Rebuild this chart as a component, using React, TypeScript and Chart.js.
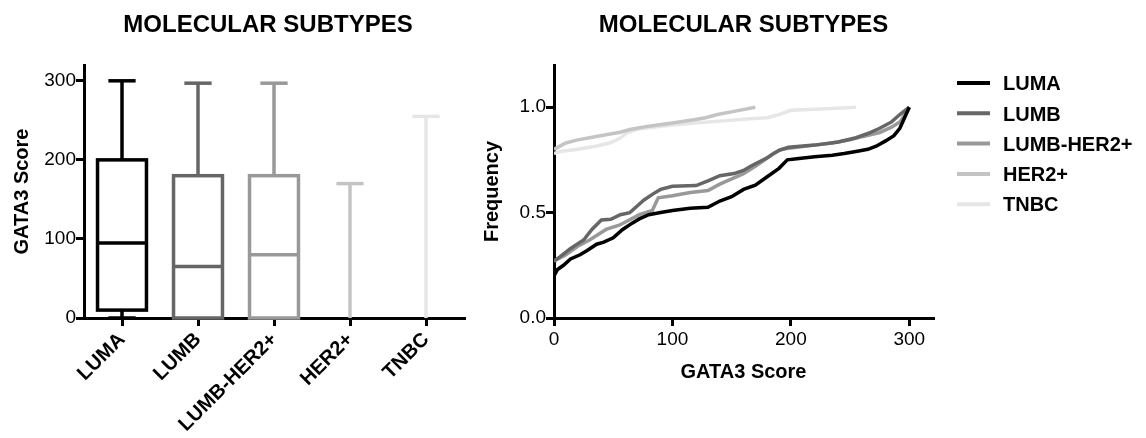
import { useEffect, useRef } from "react";
import { Chart, registerables } from "chart.js";

Chart.register(...registerables);

const FONT = "'Liberation Sans', Arial, Helvetica, sans-serif";

// Box plot summary per molecular subtype (GATA3 score)
const subtypes = ["LUMA", "LUMB", "LUMB-HER2+", "HER2+", "TNBC"];
const subtypeColors = ["#000000", "#666666", "#999999", "#c4c4c4", "#e6e6e6"];
const scoreMin = [0, 0, 0, 0, 0];
const scoreQ1 = [10, 0, 0, 0, 0];
const scoreMedian = [95, 65, 80, 0, 0];
const scoreQ3 = [200, 180, 180, 0, 0];
const scoreMax = [300, 297, 297, 170, 255];

const scoreTicks = [0, 100, 200, 300];
const freqTicks = [0, 0.5, 1.0];

// Cumulative frequency of GATA3 score per subtype
const lumaScore = [0, 3, 8, 14, 22, 28, 36, 42, 50, 58, 66, 72, 80, 90, 100, 115, 130, 140, 150, 160, 170, 180, 190, 197, 205, 220, 235, 245, 255, 265, 272, 280, 287, 292, 296, 300];
const lumaFreq = [0.2, 0.23, 0.25, 0.28, 0.3, 0.32, 0.35, 0.36, 0.38, 0.42, 0.45, 0.47, 0.49, 0.5, 0.51, 0.52, 0.525, 0.555, 0.575, 0.61, 0.63, 0.67, 0.71, 0.75, 0.755, 0.765, 0.772, 0.78, 0.79, 0.8, 0.815, 0.84, 0.865, 0.9, 0.95, 1.0];

const lumbScore = [0, 5, 14, 25, 32, 40, 48, 56, 64, 70, 76, 84, 90, 100, 120, 130, 140, 152, 160, 166, 180, 190, 198, 220, 240, 255, 265, 275, 285, 292, 300];
const lumbFreq = [0.27, 0.29, 0.33, 0.37, 0.42, 0.465, 0.468, 0.49, 0.5, 0.53, 0.56, 0.59, 0.61, 0.625, 0.628, 0.65, 0.675, 0.685, 0.7, 0.72, 0.76, 0.795, 0.81, 0.82, 0.835, 0.855, 0.875, 0.9, 0.93, 0.965, 1.0];

const lumbHer2Score = [0, 10, 20, 30, 44, 55, 62, 72, 83, 88, 100, 115, 130, 140, 150, 160, 170, 178, 185, 192, 205, 220, 235, 250, 260, 275, 285, 292, 297, 300];
const lumbHer2Freq = [0.27, 0.3, 0.34, 0.37, 0.42, 0.44, 0.46, 0.49, 0.51, 0.57, 0.58, 0.595, 0.605, 0.635, 0.66, 0.685, 0.72, 0.75, 0.78, 0.8, 0.81, 0.82, 0.83, 0.845, 0.86, 0.88, 0.905, 0.93, 0.97, 1.0];

const her2Score = [0, 10, 20, 30, 45, 55, 65, 80, 100, 118, 128, 138, 152, 170];
const her2Freq = [0.8, 0.83, 0.845, 0.855, 0.87, 0.88, 0.895, 0.91, 0.925, 0.94, 0.95, 0.965, 0.98, 1.0];

const tnbcScore = [0, 5, 20, 35, 47, 55, 62, 70, 90, 118, 143, 165, 180, 190, 200, 220, 240, 255];
const tnbcFreq = [0.78, 0.79, 0.8, 0.815, 0.83, 0.85, 0.88, 0.895, 0.91, 0.925, 0.935, 0.945, 0.95, 0.965, 0.985, 0.99, 0.995, 1.0];

const curveScores = [lumaScore, lumbScore, lumbHer2Score, her2Score, tnbcScore];
const curveFreqs = [lumaFreq, lumbFreq, lumbHer2Freq, her2Freq, tnbcFreq];

const axisGrid = {
  drawOnChartArea: false,
  drawTicks: true,
  tickLength: 8,
  lineWidth: 3,
  color: "#000",
};
const axisBorder = { display: true, width: 3, color: "#000" };

// Panel heading centred over the plot area
function makeHeading(shift: number) {
  return {
    id: "heading",
    afterDraw(chart: any) {
      const { ctx, chartArea } = chart;
      ctx.save();
      ctx.font = `bold 24px ${FONT}`;
      ctx.fillStyle = "#000";
      ctx.textAlign = "center";
      ctx.textBaseline = "alphabetic";
      ctx.fillText("MOLECULAR SUBTYPES", (chartArea.left + chartArea.right) / 2 + shift, 32);
      ctx.restore();
    },
  };
}

// Boxes (centred strokes), whiskers, caps and medians at the bar positions
const boxPlugin = {
  id: "boxes",
  afterDatasetsDraw(chart: any) {
    const { ctx } = chart;
    const xs = chart.scales.x;
    const ys = chart.scales.y;
    const meta = chart.getDatasetMeta(0);
    const lw = 3.5;
    const seg = (x1: number, y1: number, x2: number, y2: number) => {
      ctx.beginPath();
      ctx.moveTo(x1, y1);
      ctx.lineTo(x2, y2);
      ctx.stroke();
    };
    ctx.save();
    ctx.lineWidth = lw;
    ctx.lineCap = "butt";
    ctx.lineJoin = "miter";
    subtypes.forEach((_, i) => {
      const bar = meta.data[i];
      const cx = xs.getPixelForValue(i);
      const half = bar.width / 2 - lw / 2;
      const cap = bar.width * 0.26;
      const pMin = ys.getPixelForValue(scoreMin[i]);
      const pQ1 = ys.getPixelForValue(scoreQ1[i]);
      const pMed = ys.getPixelForValue(scoreMedian[i]);
      const pQ3 = ys.getPixelForValue(scoreQ3[i]);
      const pMax = ys.getPixelForValue(scoreMax[i]);
      ctx.strokeStyle = subtypeColors[i];
      seg(cx, pQ3, cx, pMax);
      seg(cx - cap, pMax, cx + cap, pMax);
      if (pMin !== pQ1) {
        seg(cx, pQ1, cx, pMin);
        seg(cx - cap, pMin, cx + cap, pMin);
      }
      if (scoreQ3[i] > scoreQ1[i]) {
        ctx.strokeRect(cx - half, pQ3, half * 2, pQ1 - pQ3);
        seg(cx - half, pMed, cx + half, pMed);
      }
    });
    ctx.restore();
  },
};

// Line legend to the right of the cumulative plot
const lineLegendPlugin = {
  id: "lineLegend",
  afterDraw(chart: any) {
    const { ctx, chartArea } = chart;
    ctx.save();
    chart.data.datasets.forEach((ds: any, i: number) => {
      const y = chartArea.top + 18 + i * 30.3;
      const x0 = chartArea.right + 24;
      ctx.strokeStyle = ds.borderColor;
      ctx.lineWidth = 4;
      ctx.beginPath();
      ctx.moveTo(x0, y);
      ctx.lineTo(x0 + 33, y);
      ctx.stroke();
      ctx.font = `bold 20px ${FONT}`;
      ctx.fillStyle = "#000";
      ctx.textAlign = "left";
      ctx.textBaseline = "alphabetic";
      ctx.fillText(ds.label, x0 + 46, y + 7.2);
    });
    ctx.restore();
  },
};

function BoxPanel() {
  const ref = useRef<HTMLCanvasElement | null>(null);
  useEffect(() => {
    if (!ref.current) return;
    const chart = new Chart(ref.current, {
      type: "bar",
      data: {
        labels: subtypes,
        datasets: [
          {
            label: "GATA3 Score",
            data: subtypes.map((_, i) => [scoreQ1[i], scoreQ3[i]]) as any,
            backgroundColor: "rgba(0,0,0,0)",
            borderColor: "rgba(0,0,0,0)",
            borderWidth: 0,
            categoryPercentage: 1,
            barPercentage: 0.69,
          },
        ],
      },
      options: {
        responsive: false,
        animation: false,
        layout: { padding: { top: 65, right: 16, bottom: 0, left: 0 } },
        plugins: { legend: { display: false }, tooltip: { enabled: false } },
        scales: {
          x: {
            type: "category",
            offset: true,
            z: 1,
            grid: { ...axisGrid, offset: false },
            border: axisBorder,
            ticks: {
              font: { family: FONT, size: 20, weight: "bold" },
              color: "#000",
              minRotation: 45,
              maxRotation: 45,
              autoSkip: false,
              padding: 2,
            },
            afterFit(scale: any) {
              scale.height = 120;
            },
          },
          y: {
            type: "linear",
            min: 0,
            max: 320,
            z: 1,
            grid: axisGrid,
            border: axisBorder,
            ticks: {
              font: { family: FONT, size: 19 },
              color: "#000",
              padding: 0,
            },
            afterBuildTicks(scale: any) {
              scale.ticks = scoreTicks.map((v) => ({ value: v }));
            },
            title: {
              display: true,
              text: "GATA3 Score",
              color: "#000",
              font: { family: FONT, size: 20, weight: "bold" },
              padding: { top: 10, bottom: 0 },
            },
            afterFit(scale: any) {
              scale.width = 84;
            },
          },
        },
      } as any,
      plugins: [boxPlugin, makeHeading(-6)],
    });
    return () => chart.destroy();
  }, []);
  return (
    <canvas
      ref={ref}
      width={480}
      height={438}
      style={{ position: "absolute", left: 0, top: 0 }}
    />
  );
}

function CumulativePanel() {
  const ref = useRef<HTMLCanvasElement | null>(null);
  useEffect(() => {
    if (!ref.current) return;
    const chart = new Chart(ref.current, {
      type: "line",
      data: {
        datasets: subtypes.map((name, i) => ({
          label: name,
          data: curveScores[i].map((s, k) => ({ x: s, y: curveFreqs[i][k] })),
          borderColor: subtypeColors[i],
          backgroundColor: subtypeColors[i],
          borderWidth: 3.5,
          pointRadius: 0,
          tension: 0,
          fill: false,
        })),
      },
      options: {
        responsive: false,
        animation: false,
        layout: { padding: { top: 65, right: 213, bottom: 0, left: 0 } },
        plugins: { legend: { display: false }, tooltip: { enabled: false } },
        scales: {
          x: {
            type: "linear",
            min: 0,
            max: 320,
            z: 1,
            grid: axisGrid,
            border: axisBorder,
            ticks: {
              font: { family: FONT, size: 19 },
              color: "#000",
              padding: 2,
            },
            afterBuildTicks(scale: any) {
              scale.ticks = scoreTicks.map((v) => ({ value: v }));
            },
            title: {
              display: true,
              text: "GATA3 Score",
              color: "#000",
              font: { family: FONT, size: 20, weight: "bold" },
              padding: { top: 0, bottom: 54 },
            },
            afterFit(scale: any) {
              scale.height = 120;
            },
          },
          y: {
            type: "linear",
            min: 0,
            max: 1.2,
            z: 1,
            grid: axisGrid,
            border: axisBorder,
            ticks: {
              font: { family: FONT, size: 19 },
              color: "#000",
              padding: 0,
              callback: (v: any) => Number(v).toFixed(1),
            },
            afterBuildTicks(scale: any) {
              scale.ticks = freqTicks.map((v) => ({ value: v }));
            },
            title: {
              display: true,
              text: "Frequency",
              color: "#000",
              font: { family: FONT, size: 20, weight: "bold" },
              padding: { top: 0, bottom: 0 },
            },
            afterFit(scale: any) {
              scale.width = 74;
            },
          },
        },
      } as any,
      plugins: [lineLegendPlugin, makeHeading(0)],
    });
    return () => chart.destroy();
  }, []);
  return (
    <canvas
      ref={ref}
      width={666}
      height={438}
      style={{ position: "absolute", left: 480, top: 0 }}
    />
  );
}

export default function App() {
  return (
    <div
      style={{
        position: "absolute",
        left: 0,
        top: 0,
        width: 1146,
        height: 438,
        background: "#fff",
        overflow: "hidden",
      }}
    >
      <BoxPanel />
      <CumulativePanel />
    </div>
  );
}
